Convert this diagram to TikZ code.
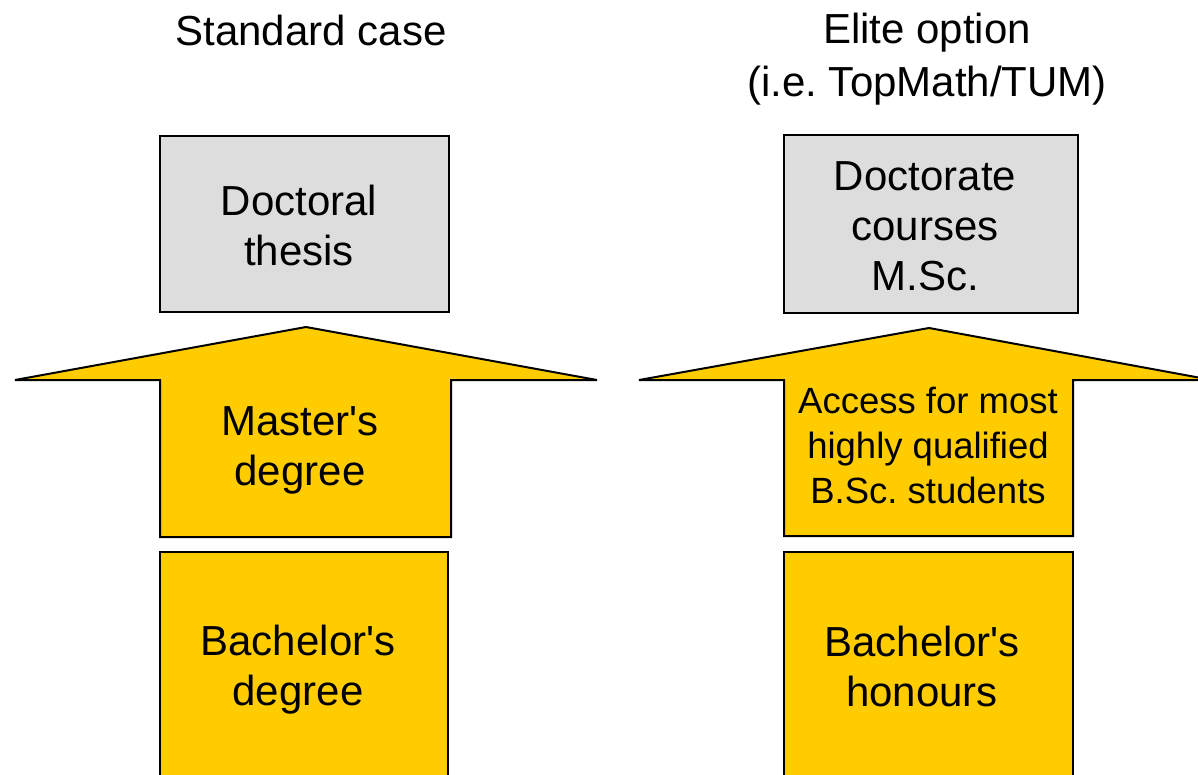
\documentclass[tikz,border=0pt]{standalone}
\usepackage{fontspec}
\setmainfont{Liberation Sans}
\frenchspacing
\definecolor{tumyellow}{HTML}{FFCC00}
\definecolor{boxgray}{HTML}{DDDDDD}
\begin{document}
\begin{tikzpicture}[x=1pt,y=-1pt,
  graybox/.style={draw=black,line width=2pt,fill=boxgray},
  yellowbox/.style={draw=black,line width=2pt,fill=tumyellow},
  bigtext/.style={align=center,font=\fontsize{42}{50}\selectfont,inner sep=0pt},
  titletext/.style={align=center,font=\fontsize{42}{53}\selectfont,inner sep=0pt},
  smalltext/.style={align=center,font=\fontsize{36.5}{45}\selectfont,inner sep=0pt}]
\clip (0,0) rectangle (1198,774);
\fill[white] (0,0) rectangle (1198,774);
% titles
\node[titletext] (t1) at (311,30) {Standard case};
\node[titletext] (t2) at (927,59) {Elite option\\(i.e. TopMath/TUM)};
% left column
\draw[graybox] (160,136) rectangle (449,312);
\node[bigtext] (dt) at (299,225) {Doctoral\\thesis};
\draw[yellowbox,line join=miter] (15,380) -- (306,327) -- (597,380) -- (451,380) -- (451,537) -- (160,537) -- (160,380) -- cycle;
\node[bigtext] (md) at (300,450) {Master\textquotesingle s\\degree};
\draw[yellowbox] (160,552) rectangle (448,800);
\node[bigtext] (bd) at (298,670) {Bachelor\textquotesingle s\\degree};
% right column
\draw[graybox] (784,135) rectangle (1078,313);
\node[bigtext] (dc) at (925,226) {Doctorate\\courses\\M.Sc.};
\draw[yellowbox,line join=miter] (639,380) -- (929,328) -- (1212,380) -- (1073,380) -- (1073,536) -- (784,536) -- (784,380) -- cycle;
\node[smalltext] (ac) at (928,445) {Access for most\\highly qualified\\B.Sc. students};
\draw[yellowbox] (784,552) rectangle (1073,800);
\node[bigtext] (bh) at (922,666) {Bachelor\textquotesingle s\\honours};
\end{tikzpicture}
\end{document}
